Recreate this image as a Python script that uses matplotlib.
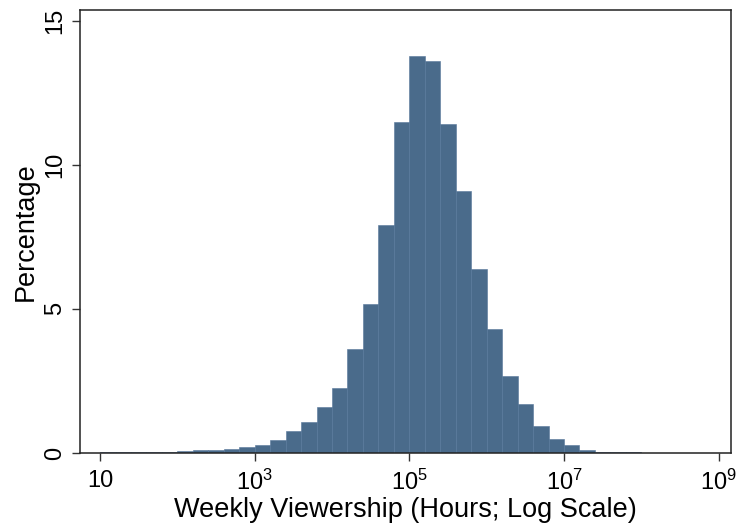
import numpy as np
import matplotlib
matplotlib.use("Agg")
import matplotlib.pyplot as plt

# histogram of log10(weekly viewership hours), bin width 0.2 decades
bin_start = 1.0
bin_width = 0.2
pct = [0.02, 0.02, 0.04, 0.05, 0.05, 0.06, 0.10, 0.10, 0.14, 0.22,
       0.28, 0.45, 0.77, 1.09, 1.60, 2.24, 3.61, 5.16, 7.91, 11.47,
       13.77, 13.59, 11.40, 9.09, 6.38, 4.29, 2.67, 1.69, 0.94, 0.47,
       0.29, 0.09, 0.04, 0.02, 0.02]
xtick_pos = [10, 1e3, 1e5, 1e7, 1e9]
xtick_lab = ["10", r"$10^3$", r"$10^5$", r"$10^7$", r"$10^9$"]
ytick_pos = [0, 5, 10, 15]

plt.rcParams['font.family'] = ['Liberation Sans', 'DejaVu Sans']
plt.rcParams['mathtext.fontset'] = 'custom'
plt.rcParams['mathtext.rm'] = 'Liberation Sans'
plt.rcParams['mathtext.it'] = 'Liberation Sans'

lo = bin_start + bin_width * np.arange(len(pct))
left = 10 ** lo
right = 10 ** (lo + bin_width)

fig = plt.figure(figsize=(7.4, 5.27), dpi=100)
ax = fig.add_axes([0.1081, 0.1404, 0.8797, 0.8412])

ax.bar(left, pct, width=right - left, align='edge',
       color='#4a6b8b', edgecolor='#55769a', linewidth=0.4)

ax.set_xscale('log')
ax.set_xlim(10 ** 0.74, 10 ** 9.16)
ax.set_ylim(0, 15.38)
ax.minorticks_off()
ax.set_xticks(xtick_pos)
ax.set_xticklabels(xtick_lab)
ax.set_yticks(ytick_pos)

ax.tick_params(axis='both', direction='out', length=5.8, width=1,
               labelsize=17, color='#333333')
ax.tick_params(axis='x', pad=6.5)
ax.tick_params(axis='y', pad=4)
for t in ax.get_yticklabels():
    t.set_rotation(90)
    t.set_va('center')

for s in ax.spines.values():
    s.set_linewidth(1.1)
    s.set_color('#222222')

ax.set_xlabel('Weekly Viewership (Hours; Log Scale)', fontsize=19.5, labelpad=1.5)
ax.set_ylabel('Percentage', fontsize=19.5, labelpad=4)

fig.savefig('out.png', dpi=100)
